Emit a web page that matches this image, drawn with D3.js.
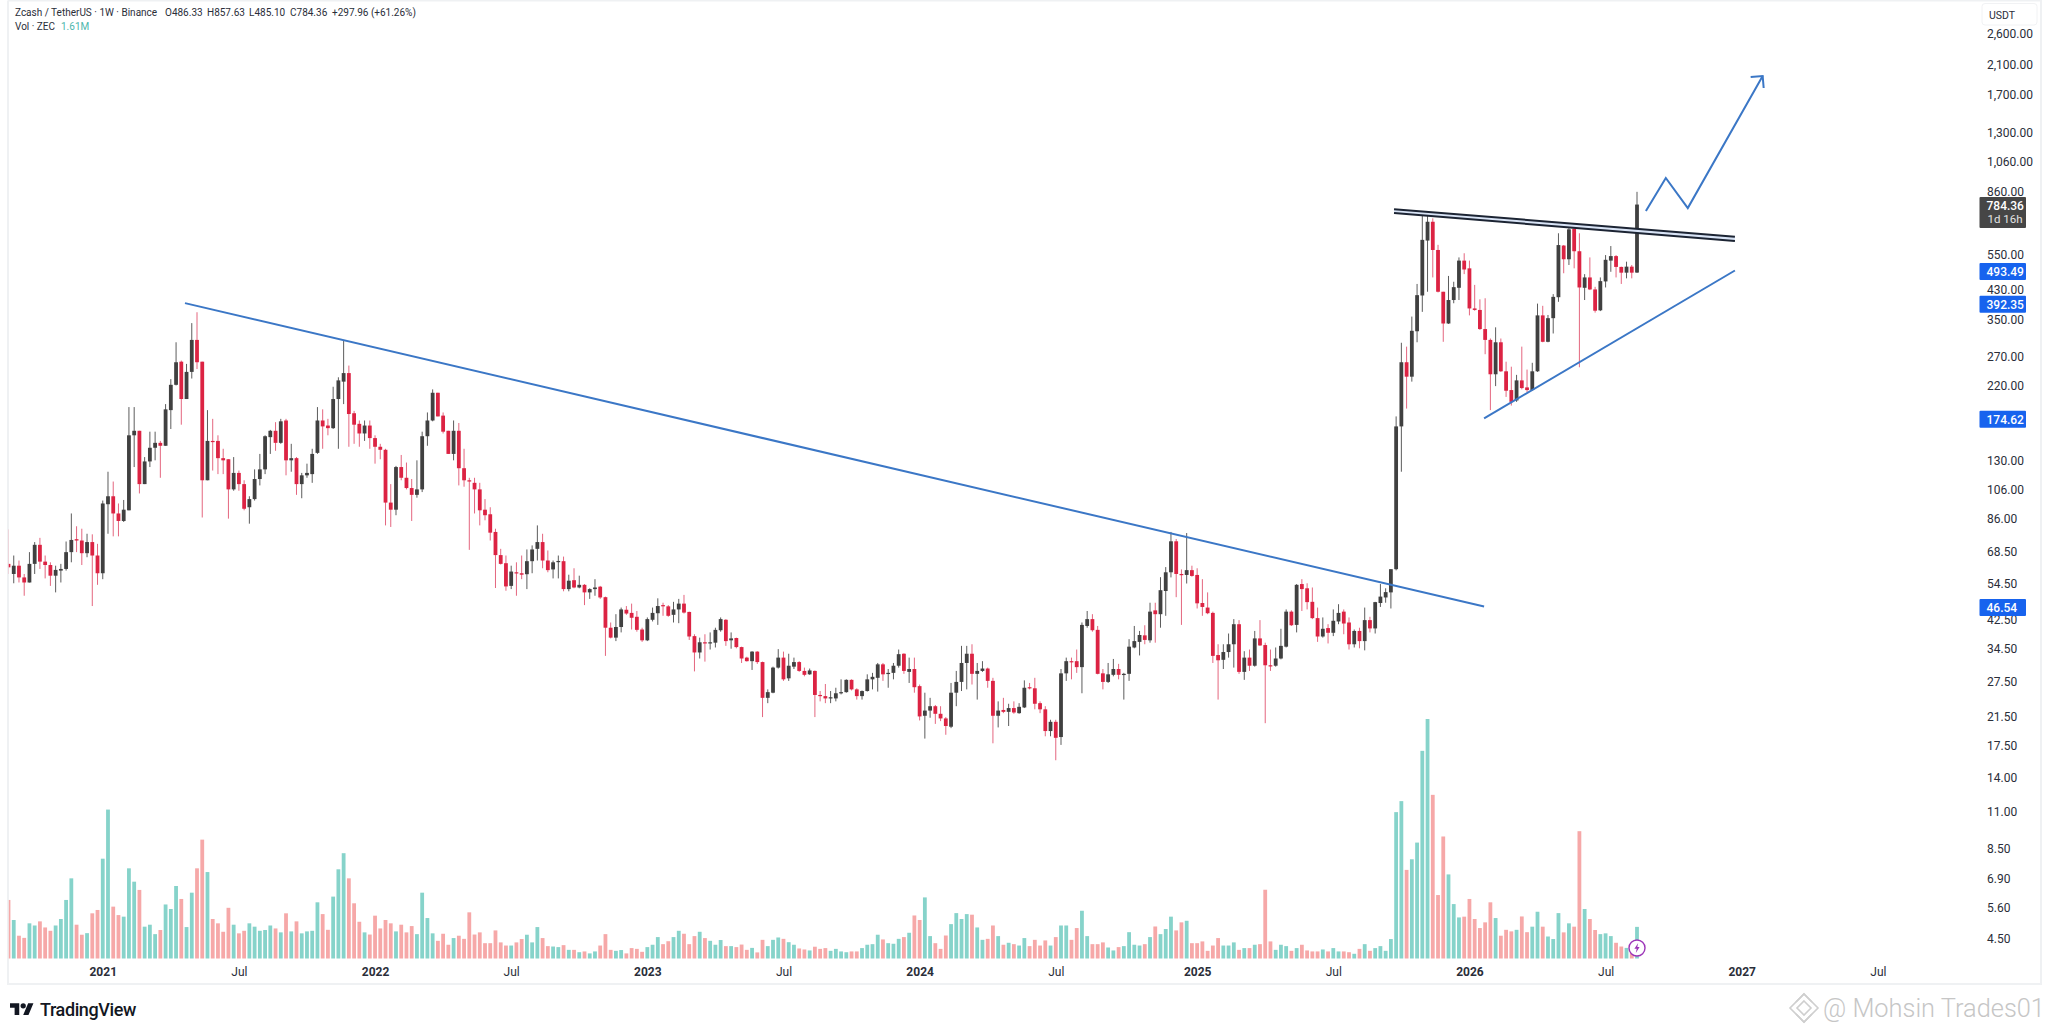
<!DOCTYPE html>
<html>
<head>
<meta charset="utf-8">
<title>ZECUSDT 1W</title>
<script src="https://cdn.jsdelivr.net/npm/d3@7"></script>
<style>
    html, body { margin: 0; padding: 0; background: #fff; }
    svg { display: block; }
    text { font-family: Roboto, "Liberation Sans", sans-serif; }
</style>
</head>
<body>
<svg id="chart" width="2048" height="1034"></svg>
<script>
// weekly candles, first one is the week of 2020-08-31
const FIRST_WEEK = "2020-08-31";
const LAST_WEEK = "2026-08-17";

const opens = [
    62.8,58.5,62,57.1,55.1,62.8,71.8,63.8,62.3,57.8,
    59.9,60.6,68.2,74.7,74,67.7,73.2,66.6,58.8,95.5,
    101,89.5,84.9,91.5,155,160,110,129,142,147,
    144,185,221,260,200,242,303,260,113,149,
    149,132,131,106,119,110,93.5,99,114,122,
    153,160,147,172,130,132,110,117,118,137,
    172,166,163,200,226,240,181,168,157,166,
    152,143,140,96.6,91.9,124,115,107,102,106,
    154,172,209,178,160,136,160,123,113,111,
    106,91.9,89,78.6,66.8,63.1,53.8,59.2,58.8,58.4,
    64,69.8,73.2,64.3,60.4,63.8,64,52.6,56,53.2,
    54.2,51.4,52.6,53.5,49.7,40.1,37.4,40.3,45.5,44.5,
    43.3,39.6,36.7,42.4,44.4,47,46.6,43.9,45.6,47.5,
    44.8,37.8,33.7,36.2,35.9,36.1,39.4,42.4,36.7,37.3,
    35,32.5,31.7,33.9,31.5,24.5,25.4,30.3,32.5,28.1,
    30.5,31.5,29.6,28.9,29.6,25,24.8,24.5,24.4,25.3,
    25.5,27.8,26,24.8,25.7,27.9,28.2,31,29,29.2,
    30.7,33.4,29.4,30,26.6,21.6,22.4,23.1,21.9,21.2,
    20,25.4,27.4,31.3,33.4,29,29.6,30.1,27.6,21.6,
    22.5,22.2,22.8,22,22.9,26.4,26.2,23.6,22.6,19.4,
    20.7,18.6,29.1,31.7,31.7,30.4,40.6,42.6,39.5,29.1,
    27.4,28.8,30,28.9,29,34.9,36.3,38,36.7,45.3,
    44.1,51.9,59.2,73.6,58.5,58.1,60.1,58.1,47.7,46.2,
    44.5,33.1,32,33.8,35.7,41.1,29.4,32.5,30.7,37.2,
    35.5,30.8,30.7,32.3,35.1,44.9,40.9,54.5,52.9,48.1,
    42.9,37.7,40,38.7,41.9,44.9,41.6,35.7,39.2,36.5,
    42.3,39.9,47.7,49.6,51.4,60.5,165,259,234,322,
    414,609,695,570,425,340,401,437,529,501,
    378,374,327,303,238,298,243,213,198,228,
    217,213,243,360,299,353,409,588,534,662,
    565,437,470,432,373,457,529,546,506,486,
    507,486.33
];
const highs = [
    80,66.6,64.3,58.5,68.2,73.2,75.4,66.6,63.5,62,
    62.8,73.5,89.5,81.8,80.4,77.6,77.3,72.3,98,120,
    112,96,98.4,189,189,160,133,159,159,149,
    193,230,298,262,256,341,368,260,185,174,
    155,141,131,133,121,113,101,122,136,155,
    161,170,174,174,146,133,119,127,141,189,
    186,174,218,233,302,253,184,172,172,172,
    155,146,141,110,125,135,128,114,130,159,
    182,214,209,182,160,172,169,141,115,115,
    111,99,93.5,80.4,69.8,66.6,62,63.5,66.6,69.5,
    71.5,82.3,77.6,69,64.3,66.6,66.1,58.2,60.9,57.8,
    54.5,52.9,56.4,53.8,49.9,41.6,44.1,46.2,46.7,47.5,
    45.1,40.1,43.1,46.2,49.3,47.8,47,48.1,49.1,50.5,
    44.9,38.3,37.4,38.3,38.8,40.1,43.1,42.6,38.8,37.4,
    35.1,32.7,34,34,31.6,26,30.5,34.5,33.9,33.4,
    32.5,31.7,30.3,30.1,29.7,25.7,27,25.7,26.3,27.9,
    27.9,27.9,26.2,25.8,28.9,29.2,31.3,31.3,30,31.3,
    34.4,33.5,32.5,32.5,26.9,25.4,24.5,23.3,23.1,21.4,
    27.2,29.6,35.3,35.3,35.7,31.3,31.7,30.3,28.2,23.9,
    24.5,23.5,23.9,23.6,27.7,27.2,28.2,23.9,23.1,21,
    21,30,32.5,32.5,34.4,41.6,45.1,44.1,40.6,30,
    31.3,32.2,31.1,29.2,37,40.6,39.2,40.8,47.8,47.8,
    57.2,61.4,78.6,74.8,60.4,78,62,60.9,56.4,51.4,
    44.9,35.7,35.7,38.5,42.6,42.3,34,34.4,39.2,42.3,
    36.1,34.4,34.9,39.8,45.6,45.3,54.5,56.4,54.8,53.2,
    46.2,43.1,41.1,45.6,47.3,45.6,43.1,39.6,40.1,46.2,
    43.3,48.1,54.5,52.9,60.5,177,297,289,357,449,
    746,746,712,591,425,475,456,541,557,529,
    446,403,406,306,331,306,260,251,237,289,
    246,258,391,385,361,418,641,590,688,663,
    641,481,541,440,470,550,586,550,507,525,
    513,857.63
];
const lows = [
    58.5,54.8,55.1,50.2,55.1,58.5,60.6,56.7,53.8,51.4,
    55.1,59.9,63.5,68.2,62.3,65.8,46.7,54.2,56.4,77.6,
    76.2,76.2,84.3,91.5,124,103,110,124,130,115,
    144,162,220,167,200,231,247,87,113,121,
    118,118,86.3,105,105,91.5,83.3,98,109,118,
    136,139,146,117,120,102,99.6,115,111,136,
    141,155,162,141,193,143,146,143,149,141,
    127,131,82.3,81.4,88.4,113,106,84.9,100,104,
    144,171,177,157,136,130,109,108,69.3,89.5,
    82.3,85.3,74,53,62.5,52,52.6,50.2,56.4,52.6,
    58.8,64.3,60.9,59.2,56.7,56.7,51.8,51.8,52.9,52.9,
    47,49.1,50.2,49.1,32.9,37.2,36.5,38.8,43.9,39.6,
    39,36.3,36.5,41.9,40.9,43.6,43.3,41.6,41.4,44.3,
    36.8,29.5,32.3,31.6,34.4,34.9,39,35.3,34.6,34.7,
    31.3,31.6,29.8,31.1,21.4,23.6,25.3,30.1,27.6,27.6,
    30,29.4,28.5,28.8,21.4,23.9,23.6,23.6,23.9,25.1,
    25.4,25.8,24.2,24.2,25.6,26,25.6,27.6,26.3,27.9,
    30.3,29,27.2,25.4,20.9,18.4,21.3,20.4,20.8,18.9,
    19.8,23.1,25.7,26,26.9,24.2,29.4,26.3,17.8,19.9,
    22,20.1,21.9,21.9,22.8,26,22.6,22,18.7,18.7,
    15.8,17.6,27.6,27.9,29.2,25.3,40.1,39,28.9,26,
    27.2,28.5,27.9,24.2,27.6,34.7,33,35.7,36.1,36.1,
    40.1,43.6,57.1,49.7,40.9,54.7,57.4,45.9,43.6,44.1,
    31.3,24.2,30,32.5,30.3,29,27.8,29.6,30.5,35.3,
    20.5,29.6,30.5,32.1,34.9,40.6,38.8,45.1,45.6,42.6,
    36.3,37.4,35.9,37.8,41.1,38.3,34.4,34.9,34.7,34.2,
    38.8,38.5,46.4,47.8,45.9,60,120,187,226,298,
    369,425,470,423,299,339,392,401,481,360,
    372,325,274,185,219,242,203,191,196,214,
    210,212,242,298,298,317,396,484,513,501,
    250,401,430,367,371,438,489,470,449,467,
    467,485.1
];
const closes = [
    61.3,62,57.1,55.1,62.8,71.8,63.8,62.3,57.8,60.2,
    60.6,68.2,74.3,74,67.7,73.2,66.6,58.8,96,101,
    89.5,84.9,91.9,155,160,110,129,142,147,144,
    186,221,259,200,242,303,259,113,149,148,
    132,130,106,119,110,92.5,99,114,122,154,
    160,147,171,130,132,110,117,119,136,172,
    165,163,200,228,240,180,167,157,166,152,
    143,140,96.6,91.9,124,115,107,102,106,154,
    172,209,177,159,136,160,123,113,112,106,
    91.5,88.4,78.2,66.8,62.8,53.6,59.5,58.8,58.2,64,
    69.5,73.2,64.3,60.1,63.5,64.1,52.6,55.8,53.2,54.2,
    51.4,52.6,53.2,49.6,40.1,37.4,40.3,45.6,44.3,43,
    39.5,36.7,42.6,44.5,46.7,46.8,43.6,45.6,47.5,44.6,
    37.7,33.7,36.2,36.1,36.2,39.5,42.6,36.5,37.2,35,
    32.3,31.7,33.9,31.5,24.5,25.5,30.3,32.5,27.9,30.7,
    31.5,29.6,28.8,29.7,25,24.9,24.4,24.6,25.3,25.5,
    27.8,26,24.8,25.7,27.9,28.4,31,28.9,29.2,30.7,
    33.3,29.6,30,26.4,21.5,22.4,23.1,21.9,21.2,20.1,
    25.4,27.4,31.3,33.4,29,29.6,30.1,27.6,21.6,22.4,
    22.2,22.8,22.1,23,26.3,26.2,23.5,22.6,19.4,20.7,
    18.5,29.1,31.7,31.5,30.4,40.9,42.6,39.4,29,27.4,
    28.9,30,28.8,29,35.1,36.5,38.1,36.8,44.9,44.1,
    52.2,59.2,73.6,58.5,58,60.1,57.7,47.6,46.4,44.4,
    32.9,31.9,33.8,35.7,41.1,29.4,32.5,30.7,37.2,35.4,
    30.8,30.7,32.3,35.3,44.9,40.8,54.2,52.6,48,42.9,
    37.7,39.8,38.7,42.1,44.5,41.3,35.7,39.2,36.5,42.3,
    39.9,48,49.9,51.5,60.5,165,259,234,323,415,
    612,695,570,425,340,401,439,529,497,378,
    374,327,303,238,298,243,212,196,228,216,
    213,243,360,299,353,410,590,534,659,565,
    438,470,432,372,458,532,546,506,486,507,
    486,784.36
];
// volume in millions of ZEC
const volumes = [
    2.98,1.96,1.16,1.05,1.79,1.68,1.89,1.58,1.41,1.68,
    2.01,2.98,4.08,1.72,1.21,1.29,2.3,2.47,5.08,7.58,
    2.64,2.21,2.13,4.59,3.91,3.49,1.62,1.72,1.24,1.45,
    2.75,2.52,3.69,3.03,1.6,3.35,4.59,6.05,4.4,2.01,
    1.79,1.36,2.58,1.72,1.28,1.41,1.79,1.62,1.41,1.45,
    1.68,1.53,1.33,2.3,1.38,1.89,1.28,1.38,1.41,2.86,
    2.26,1.46,3.15,4.54,5.36,4.08,2.81,1.87,1.33,1.22,
    2.18,1.53,1.96,1.79,1.38,1.72,1.33,1.65,1.24,3.35,
    2.06,1.28,0.9,1.26,0.7,1.04,1.16,1,2.35,1.22,
    1.33,0.78,0.78,1.43,0.82,0.66,0.66,0.82,0.99,1.21,
    0.82,1.6,1.04,0.63,0.61,0.58,0.68,0.44,0.44,0.32,
    0.36,0.26,0.36,0.66,1.24,0.44,0.39,0.43,0.26,0.53,
    0.49,0.34,0.58,0.7,1.09,0.73,0.88,1.09,1.41,1.26,
    0.73,1.14,1.36,1.04,0.9,0.7,0.94,0.63,0.63,0.58,
    0.71,0.44,0.54,0.31,0.95,0.63,0.95,1.07,1,0.83,
    0.7,0.51,0.46,0.41,0.6,0.49,0.53,0.39,0.49,0.36,
    0.32,0.36,0.36,0.53,0.7,0.73,1.21,0.97,0.78,0.75,
    1,1.09,1.31,2.19,1.96,3.11,1.14,0.78,0.49,1.17,
    1.75,2.31,2.01,2.26,2.23,1.58,0.95,1,1.68,1.14,
    0.7,0.8,0.73,0.66,1.04,0.63,0.95,0.66,0.92,0.66,
    1.09,1.68,1.68,0.95,1.55,2.43,1.14,0.73,0.73,0.82,
    0.56,0.41,0.58,0.63,1.34,0.7,0.66,0.73,1.09,1.63,
    1.24,1.5,2.13,1.43,1.84,1.92,0.78,0.78,0.87,0.39,
    0.66,1.04,0.66,0.66,0.82,0.44,0.53,0.53,0.7,0.73,
    3.5,0.87,0.44,0.7,0.63,0.39,0.53,0.7,0.41,0.36,
    0.36,0.46,0.36,0.53,0.36,0.36,0.32,0.24,0.49,0.73,
    0.39,0.53,0.63,0.39,0.99,7.45,8.01,4.51,5.05,5.9,
    10.57,12.19,8.33,3.23,6.21,4.28,2.77,2.09,2.13,3.03,
    2.01,1.55,1.84,2.86,2.06,1.16,1.46,1.38,1.46,2.14,
    1.34,1.62,2.38,1.62,1.12,0.99,2.31,1.33,1.79,1.62,
    6.48,2.52,2.01,1.45,1.24,1.28,1.14,0.8,0.61,0.54,
    0.68,1.61
];

const priceTicks = [2600, 2100, 1700, 1300, 1060, 860, 550, 430, 350, 270, 220, 130, 106, 86, 68.5, 54.5, 42.5, 34.5, 27.5, 21.5, 17.5, 14, 11, 8.5, 6.9, 5.6, 4.5];
const yearTicks = ["2021-01-04", "2022-01-03", "2023-01-02", "2024-01-01", "2025-01-06", "2026-01-05", "2027-01-04"];
const julyTicks = ["2021-07-05", "2022-07-04", "2023-07-03", "2024-07-01", "2025-07-07", "2026-07-06", "2027-07-05"];

// drawn lines: [week number, price]
const resistanceLine = [[33.7, 392.35], [281.8, 46.54]];
const supportLine = [[281.8, 174.62], [329.7, 493.49]];
const channelTop = [[264.6, 759], [329.7, 626]];
const channelBottom = [[264.6, 739], [329.7, 607]];
const forecastPath = [[312.7, 750], [316.5, 945], [320.7, 765], [335, 1935]];
const linePriceTags = [493.49, 392.35, 174.62, 46.54];
const lastPrice = 784.36;

const COLORS = {
    UP: "#404040", UP_WICK: "#5c5c5c",
    DOWN: "#dc2343", DOWN_WICK: "#e4667f",
    VOL_UP: "#86d3ca", VOL_DOWN: "#f6a8a8",
    LINE: "#3b77c6", BLACK: "#1c2433",
    TAG: "#1763ee", BORDER: "#eff1f3", TEXT: "#2a2e39"
};

const parseDay = d3.utcParse("%Y-%m-%d");
const firstDay = parseDay(FIRST_WEEK);
const weekDate = n => new Date(+firstDay + n * 7 * 864e5);

const x = d3.scaleUtc().domain([firstDay, parseDay(LAST_WEEK)]).range([8.5, 1637]);
const y = d3.scaleLog().domain([4.5, 2600]).range([939, 34]);
const yVol = d3.scaleLinear().domain([0, 12.19]).range([958.5, 719]);

const rows = opens.map((open, i) => ({
    date: weekDate(i), open, high: highs[i], low: lows[i], close: closes[i], volume: volumes[i],
    up: closes[i] >= open
}));

const svg = d3.select("#chart");

svg.append("defs").append("clipPath").attr("id", "plot")
    .append("rect").attr("x", 8.8).attr("y", 0).attr("width", 1970).attr("height", 984);

// frame
svg.append("path")
    .attr("d", "M8,0.5V984H2041V0.5H8")
    .attr("fill", "none")
    .attr("stroke", COLORS.BORDER)
    .attr("stroke-width", 2);

const plot = svg.append("g").attr("clip-path", "url(#plot)");

plot.append("g").selectAll("rect").data(rows).join("rect")
    .attr("x", d => x(d.date) - 1.9)
    .attr("y", d => yVol(d.volume))
    .attr("width", 3.8)
    .attr("height", d => yVol(0) - yVol(d.volume))
    .attr("fill", d => d.up ? COLORS.VOL_UP : COLORS.VOL_DOWN);

plot.append("g").selectAll("line").data(rows).join("line")
    .attr("x1", d => x(d.date))
    .attr("x2", d => x(d.date))
    .attr("y1", d => y(d.high))
    .attr("y2", d => y(d.low))
    .attr("stroke", d => d.up ? COLORS.UP_WICK : COLORS.DOWN_WICK)
    .attr("stroke-width", 1);

plot.append("g").selectAll("rect").data(rows).join("rect")
    .attr("x", d => x(d.date) - 1.9)
    .attr("y", d => y(Math.max(d.open, d.close)))
    .attr("width", 3.8)
    .attr("height", d => Math.max(1.2, Math.abs(y(d.open) - y(d.close))))
    .attr("fill", d => d.up ? COLORS.UP : COLORS.DOWN);

// hand drawn lines
const line = d3.line().x(d => x(weekDate(d[0]))).y(d => y(d[1]));

const drawLine = (points, color, width) => svg.append("path")
    .attr("d", line(points))
    .attr("fill", "none")
    .attr("stroke", color)
    .attr("stroke-width", width);

svg.append("path")
    .attr("d", line(channelTop.concat(channelBottom.slice().reverse())) + "Z")
    .attr("fill", "#d9e4f6");
drawLine(channelTop, COLORS.BLACK, 2);
drawLine(channelBottom, COLORS.BLACK, 2);
drawLine(resistanceLine, COLORS.LINE, 2);
drawLine(supportLine, COLORS.LINE, 2);
drawLine(forecastPath, COLORS.LINE, 2);

// arrow head on the forecast
const tip = forecastPath[forecastPath.length - 1];
const tipX = x(weekDate(tip[0]));
const tipY = y(tip[1]);
svg.append("path")
    .attr("d", `M${tipX - 12},${tipY + 1}L${tipX},${tipY}L${tipX + 1},${tipY + 12}`)
    .attr("fill", "none")
    .attr("stroke", COLORS.LINE)
    .attr("stroke-width", 2);

// price axis
const yAxis = svg.append("g")
    .attr("transform", "translate(1984,0)")
    .call(d3.axisRight(y).tickValues(priceTicks).tickSize(0).tickFormat(d3.format(",.2f")));
yAxis.select(".domain").remove();
yAxis.selectAll("text")
    .attr("x", 3)
    .attr("fill", COLORS.TEXT)
    .attr("font-size", 12)
    .attr("font-family", "Roboto");

// time axis
const drawTimeAxis = (ticks, format, weight) => {
    const axis = svg.append("g")
        .attr("transform", "translate(0,958)")
        .call(d3.axisBottom(x).tickValues(ticks.map(parseDay)).tickSize(0).tickFormat(d3.utcFormat(format)));
    axis.select(".domain").remove();
    axis.selectAll("text")
        .attr("y", 9)
        .attr("fill", COLORS.TEXT)
        .attr("font-size", 12)
        .attr("font-weight", weight)
        .attr("font-family", "Roboto");
};
drawTimeAxis(yearTicks, "%Y", 700);
drawTimeAxis(julyTicks, "%b", 400);

// price tags
const tags = svg.append("g").selectAll("g").data(linePriceTags).join("g")
    .attr("transform", d => `translate(1979.5,${y(d) - 7.5})`);
tags.append("rect")
    .attr("width", 46.5)
    .attr("height", 17)
    .attr("rx", 1)
    .attr("fill", COLORS.TAG);
tags.append("text")
    .attr("x", 7)
    .attr("y", 13)
    .attr("fill", "#fff")
    .attr("font-size", 12)
    .attr("font-weight", 500)
    .text(d => d3.format(".2f")(d));

const lastTag = svg.append("g").attr("transform", `translate(1979.5,${y(lastPrice) - 7.5})`);
lastTag.append("rect")
    .attr("width", 46.5)
    .attr("height", 31)
    .attr("rx", 1)
    .attr("fill", "#464646");
lastTag.append("text")
    .attr("x", 7).attr("y", 13)
    .attr("fill", "#fff").attr("font-size", 12).attr("font-weight", 500)
    .text(d3.format(".2f")(lastPrice));
lastTag.append("text")
    .attr("x", 8).attr("y", 26)
    .attr("fill", "#e3e3e3").attr("font-size", 11.5)
    .text("1d 16h");

// currency box
svg.append("rect")
    .attr("x", 1982).attr("y", 3.5)
    .attr("width", 55).attr("height", 21.5).attr("rx", 3)
    .attr("fill", "#fff").attr("stroke", "#f1f2f4");
svg.append("text")
    .attr("x", 1989).attr("y", 19)
    .attr("fill", COLORS.TEXT).attr("font-size", 10.5)
    .text("USDT");

// legend
const legendItems = [
    [15, "Zcash / TetherUS \u00b7 1W \u00b7 Binance"],
    [165, "O486.33"], [207, "H857.63"], [249, "L485.10"], [290, "C784.36"],
    [332, "+297.96 (+61.26%)"]
];
svg.append("g").selectAll("text").data(legendItems).join("text")
    .attr("x", d => d[0])
    .attr("y", 16)
    .attr("fill", COLORS.TEXT)
    .attr("font-size", 10)
    .text(d => d[1]);
svg.append("text")
    .attr("x", 15).attr("y", 30)
    .attr("fill", COLORS.TEXT).attr("font-size", 10)
    .text("Vol \u00b7 ZEC");
svg.append("text")
    .attr("x", 61).attr("y", 30)
    .attr("fill", "#4db6ac").attr("font-size", 10)
    .text("1.61M");

// data-window lightning badge
const badge = svg.append("g").attr("transform", `translate(${x(weekDate(311))},948)`);
badge.append("circle")
    .attr("r", 8)
    .attr("fill", "#fff")
    .attr("stroke", "#9c35b8")
    .attr("stroke-width", 1.4);
badge.append("path")
    .attr("d", "M1.2,-5L-2.6,0.8H-0.3L-1.2,5L2.6,-1H0.3Z")
    .attr("fill", "#9c35b8");

// TradingView logo
const logo = svg.append("g").attr("transform", "translate(10,1000.5) scale(0.66)");
logo.append("path")
    .attr("d", "M14 22H7V11H0V4h14v18zM28 22h-8l7.5-18h8L28 22z")
    .attr("fill", "#131722");
logo.append("circle")
    .attr("cx", 20).attr("cy", 8).attr("r", 4)
    .attr("fill", "#131722");
svg.append("text")
    .attr("x", 40).attr("y", 1016)
    .attr("fill", "#131722")
    .attr("font-size", 18)
    .attr("font-weight", 500)
    .attr("font-family", "Inter")
    .attr("letter-spacing", -0.4)
    .text("TradingView");

// watermark
const mark = svg.append("g")
    .attr("transform", "translate(1804,1008)")
    .attr("fill", "none")
    .attr("stroke", "#cfcfcf")
    .attr("stroke-width", 1.6);
mark.append("path").attr("d", "M0,-14L14,0L0,14L-14,0Z");
mark.append("path").attr("d", "M0,-7L7,0L0,7L-7,0Z");
mark.append("path").attr("d", "M-8,-6L0,-14L8,-6M-8,6L0,14L8,6");
svg.append("text")
    .attr("x", 1823).attr("y", 1017)
    .attr("fill", "#c6c6c6")
    .attr("font-size", 25.4)
    .attr("font-weight", 300)
    .attr("font-family", "Open Sans")
    .text("@ Mohsin Trades01");
</script>
</body>
</html>
